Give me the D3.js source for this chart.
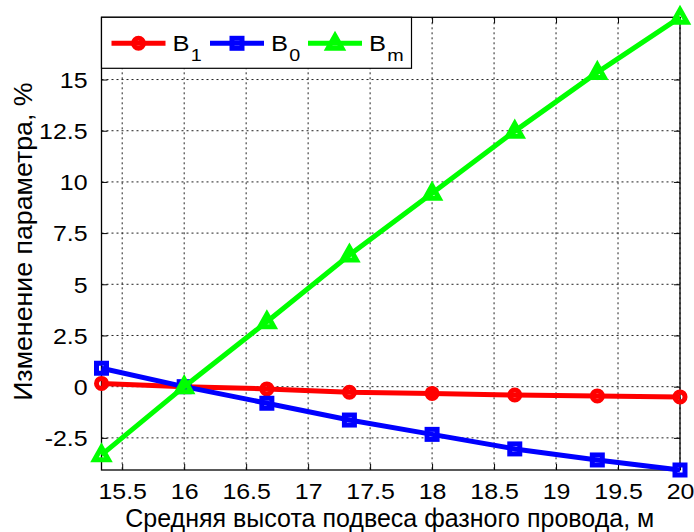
<!DOCTYPE html>
<html>
<head>
<meta charset="utf-8">
<script src="https://cdn.jsdelivr.net/npm/d3@7"></script>
<style>
  body { margin: 0; background: #fff; }
  text { font-family: "Liberation Sans", Arial, sans-serif; fill: #000; }
</style>
</head>
<body>
<div id="chart"></div>
<script>
// wire height vs parameter change, %
const heights = [15.333, 16, 16.667, 17.333, 18, 18.667, 19.333, 20];
const b1 = [0.16, 0, -0.11, -0.27, -0.33, -0.41, -0.45, -0.5];
const b0 = [0.9, 0, -0.81, -1.63, -2.33, -3.04, -3.58, -4.07];
const bm = [-3.33, 0, 3.17, 6.43, 9.45, 12.48, 15.35, 18.04];
const xTicks = [15.5, 16, 16.5, 17, 17.5, 18, 18.5, 19, 19.5, 20];
const yTicks = [-2.5, 0, 2.5, 5, 7.5, 10, 12.5, 15];
const seriesNames = ["1", "0", "m"];
const seriesColors = ["#ff0000", "#0000ff", "#00ff00"];
const seriesShapes = ["circle", "square", "triangle"];

const W = 694, H = 532;
const margin = {top: 17.3, right: 14, bottom: 62, left: 101.5},
      width = W - margin.left - margin.right,
      height = H - margin.top - margin.bottom;
const sx = 1.16; // tick glyphs in the picture are a bit wider than tall

const series = [b1, b0, bm].map((vals, i) => ({
  name: seriesNames[i], color: seriesColors[i], shape: seriesShapes[i],
  points: vals.map((v, j) => ({x: heights[j], y: v}))
}));

const svg = d3.select("#chart").append("svg")
  .attr("width", W).attr("height", H);

const g = svg.append("g").attr("transform", `translate(${margin.left},${margin.top})`);

const x = d3.scaleLinear().domain(d3.extent(heights)).range([0, width]);
const y = d3.scaleLinear().domain(d3.extent(b1.concat(b0, bm))).range([height, 0]);

// grid
g.append("g").selectAll("line").data(xTicks).enter().append("line")
  .attr("x1", d => x(d)).attr("x2", d => x(d)).attr("y1", 0).attr("y2", height)
  .attr("stroke", "#222").attr("stroke-width", 1).attr("stroke-dasharray", "2,3");
g.append("g").selectAll("line").data(yTicks).enter().append("line")
  .attr("y1", d => y(d)).attr("y2", d => y(d)).attr("x1", 0).attr("x2", width)
  .attr("stroke", "#222").attr("stroke-width", 1).attr("stroke-dasharray", "2,3");

// axes (ticks inside, on all four sides)
function styleAxis(sel) {
  sel.select(".domain").remove();
  sel.selectAll("line").attr("stroke", "#000");
  sel.selectAll("text").attr("font-size", "21.5px").attr("fill", "#000");
}
g.append("g").attr("transform", `translate(0,${height})`)
  .call(d3.axisBottom(x).tickValues(xTicks).tickSizeInner(-6).tickSizeOuter(0).tickPadding(14).tickFormat(d => String(d)))
  .call(styleAxis)
  .selectAll("text").attr("transform", `scale(${sx},1)`);
g.append("g")
  .call(d3.axisLeft(y).tickValues(yTicks).tickSizeInner(-6).tickSizeOuter(0).tickPadding(12).tickFormat(d => String(d)))
  .call(styleAxis)
  .selectAll("text").attr("transform", `scale(${sx},1)`).attr("dy", "0.36em");
g.append("g")
  .call(d3.axisTop(x).tickValues(xTicks).tickSizeInner(-6).tickSizeOuter(0).tickFormat(""))
  .call(styleAxis);
g.append("g").attr("transform", `translate(${width},0)`)
  .call(d3.axisRight(y).tickValues(yTicks).tickSizeInner(-6).tickSizeOuter(0).tickFormat(""))
  .call(styleAxis);

g.append("rect").attr("width", width).attr("height", height)
  .attr("fill", "none").attr("stroke", "#000").attr("stroke-width", 1.3);

// markers
function drawMarker(sel, shape, color) {
  if (shape === "circle") {
    sel.append("circle").attr("r", 5);
  } else if (shape === "square") {
    sel.append("rect").attr("x", -5).attr("y", -5).attr("width", 10).attr("height", 10);
  } else {
    sel.append("path").attr("d", "M0,-7.5L7,5L-7,5Z");
  }
  sel.selectAll("*").attr("fill", "none").attr("stroke", color)
    .attr("stroke-width", 5).attr("stroke-linejoin", "miter");
}

const line = d3.line().x(d => x(d.x)).y(d => y(d.y));

series.forEach(s => {
  g.append("path").datum(s.points)
    .attr("fill", "none").attr("stroke", s.color).attr("stroke-width", 5)
    .attr("stroke-linejoin", "round").attr("d", line);
  g.append("g").selectAll("g").data(s.points).enter().append("g")
    .attr("transform", d => `translate(${x(d.x)},${y(d.y)})`)
    .each(function() { drawMarker(d3.select(this), s.shape, s.color); });
});

// legend
const legend = g.append("g");
legend.append("rect").attr("x", 0).attr("y", 0).attr("width", 310).attr("height", 51)
  .attr("fill", "#fff").attr("stroke", "#000").attr("stroke-width", 1.2);
const itemX = [10, 108.5, 206.5];
series.forEach((s, i) => {
  const it = legend.append("g").attr("transform", `translate(${itemX[i]},26)`);
  it.append("line").attr("x1", 0).attr("x2", 54).attr("stroke", s.color).attr("stroke-width", 5);
  drawMarker(it.append("g").attr("transform", "translate(27,0)"), s.shape, s.color);
  const t = it.append("text").attr("x", 61 / sx).attr("y", 8).attr("font-size", "22px")
    .attr("transform", `scale(${sx},1)`);
  t.append("tspan").text("B");
  t.append("tspan").attr("dy", 10).attr("font-size", "17px").attr("dx", 1).text(s.name);
});

// axis labels
svg.append("text")
  .attr("transform", `translate(${margin.left + width / 2 - 1},527)`)
  .attr("text-anchor", "middle").attr("font-size", "25px")
  .text("Средняя высота подвеса фазного провода, м");
svg.append("text")
  .attr("transform", `translate(32,${margin.top + height / 2 - 2}) rotate(-90) scale(1.07,1)`)
  .attr("text-anchor", "middle").attr("font-size", "25px")
  .text("Изменение параметра, %");
</script>
</body>
</html>
